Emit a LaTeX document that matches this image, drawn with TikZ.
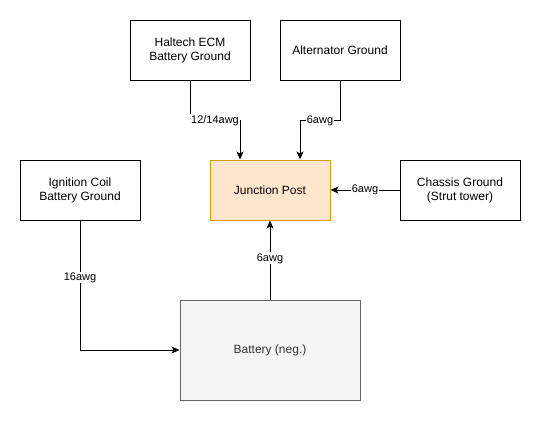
\documentclass[tikz,border=0pt]{standalone}
\usepackage{fontspec}
\setmainfont{Liberation Sans}
\usepackage{xcolor}
\usetikzlibrary{arrows.meta,positioning,calc}
\definecolor{postfill}{HTML}{FFE6CC}
\definecolor{postdraw}{HTML}{D79B00}
\definecolor{battfill}{HTML}{F5F5F5}
\definecolor{battdraw}{HTML}{666666}
\definecolor{batttext}{HTML}{333333}
\tikzset{
  groundbox/.style={rectangle, draw=black, fill=white, line width=1pt,
                    minimum width=120pt, minimum height=60pt,
                    align=center, font=\fontsize{12}{14}\selectfont},
  postbox/.style={groundbox, draw=postdraw, fill=postfill},
  battbox/.style={groundbox, draw=battdraw, fill=battfill, text=batttext,
                  minimum width=180pt, minimum height=100pt},
  wire/.style={-{Stealth[length=8pt,width=7pt,inset=2pt]}, line width=1pt, draw=black},
  gauge/.style={fill=white, inner sep=1pt, font=\fontsize{11}{13}\selectfont},
}

\begin{document}
\begin{tikzpicture}[x=1pt, y=-1pt]
  \useasboundingbox (0,0) rectangle (541,421);
  % ground sources
  \node[groundbox] (haltech)    at (190, 50) {Haltech ECM\\Battery Ground};
  \node[groundbox] (alternator) at (340, 50) {Alternator Ground};
  \node[groundbox] (ignition)   at (80, 190) {Ignition Coil\\Battery Ground};
  \node[groundbox] (chassis)    at (460,190) {Chassis Ground\\(Strut tower)};
  % junction and battery
  \node[postbox] (junction) at (270,190) {Junction Post};
  \node[battbox] (battery)  at (270,350) {Battery (neg.)};
  % wires
  \draw[wire] (haltech.south) -- ++(0,40) -| node[gauge, pos=0.25] {12/14awg} ($(junction.north)+(-30,0)$);
  \draw[wire] (alternator.south) -- ++(0,40) -| node[gauge, pos=0.25] {6awg} ($(junction.north)+(30,0)$);
  \draw[wire] (chassis.west) -- node[gauge] {6awg} (junction.east);
  \draw[wire] (battery.north) -- node[gauge, pos=0.52] {6awg} (junction.south);
  \draw[wire] (ignition.south) |- node[gauge, pos=0.22] {16awg} (battery.west);
\end{tikzpicture}
\end{document}
